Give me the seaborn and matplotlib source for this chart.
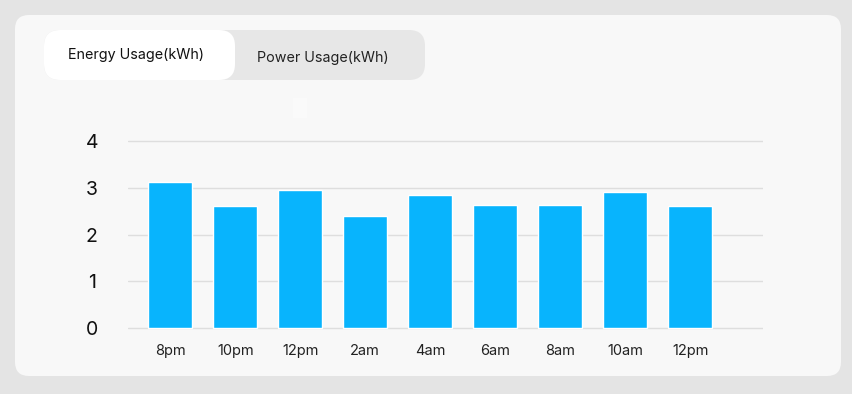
import matplotlib
matplotlib.use("Agg")
import matplotlib.pyplot as plt
from matplotlib.patches import FancyBboxPatch, Rectangle
import seaborn as sns
import pandas as pd

# ---- data ----
time_labels = ["8pm", "10pm", "12pm", "2am", "4am", "6am", "8am", "10am", "12pm"]
energy_kwh = [3.12, 2.61, 2.95, 2.40, 2.84, 2.63, 2.63, 2.91, 2.61]
y_ticks = [0, 1, 2, 3, 4]
tab_labels = ["Energy Usage(kWh)", "Power Usage(kWh)"]

sns.set_theme(style="white")
plt.rcParams["font.family"] = ["Inter", "DejaVu Sans"]

W, H = 853, 394
fig = plt.figure(figsize=(W / 100, H / 100), dpi=100)
fig.patch.set_facecolor("#e4e4e4")

# background layer in pixel coordinates
bg = fig.add_axes([0, 0, 1, 1], zorder=0)
bg.set_xlim(0, W)
bg.set_ylim(H, 0)
bg.axis("off")
bg.add_patch(FancyBboxPatch((15 + 14, 15 + 14), 826 - 28, 361 - 28,
                            boxstyle="round,pad=14", fc="#f8f8f8", ec="none"))
bg.add_patch(FancyBboxPatch((44 + 16, 30 + 16), 381 - 32, 50 - 32,
                            boxstyle="round,pad=16", fc="#e7e7e7", ec="none"))
bg.add_patch(FancyBboxPatch((44 + 16, 30 + 16), 191 - 32, 50 - 32,
                            boxstyle="round,pad=16", fc="#ffffff", ec="none"))
bg.add_patch(Rectangle((293, 98), 14, 20, fc="#fafafa", ec="none"))
bg.text(136, 55, tab_labels[0], ha="center", va="center", fontsize=10.3, color="#111111")
bg.text(323, 58, tab_labels[1], ha="center", va="center", fontsize=10.3, color="#222222")

# chart axes
ymin, ymax = -0.2, 4.1
px_per_unit = 46.75
y0_px = 328
bottom_px = y0_px - ymin * px_per_unit
top_px = y0_px - ymax * px_per_unit
ax = fig.add_axes([128 / W, (H - bottom_px) / H, (763 - 128) / W, (bottom_px - top_px) / H], zorder=1)
ax.set_facecolor("none")

df = pd.DataFrame({"slot": list(range(len(time_labels))), "kwh": energy_kwh})
sns.barplot(data=df, x="slot", y="kwh", color="#08b4fd", saturation=1, width=0.68, ax=ax, zorder=3)

ax.set_xlim(-0.65, 9.12)
ax.set_ylim(ymin, ymax)
ax.set_yticks(y_ticks)
ax.set_yticklabels([str(t) for t in y_ticks])
ax.set_xticks(range(len(time_labels)))
ax.set_xticklabels(time_labels)
ax.set_xlabel("")
ax.set_ylabel("")
ax.grid(axis="y", color="#dedede", linewidth=1, zorder=0)
for s in ax.spines.values():
    s.set_visible(False)
ax.tick_params(axis="y", length=0, pad=26, labelsize=14, labelcolor="#111111")
ax.tick_params(axis="x", length=0, pad=5, labelsize=10.5, labelcolor="#222222")
for lab in ax.get_yticklabels():
    lab.set_horizontalalignment("center")

fig.savefig("out.png", dpi=100, facecolor=fig.get_facecolor())
